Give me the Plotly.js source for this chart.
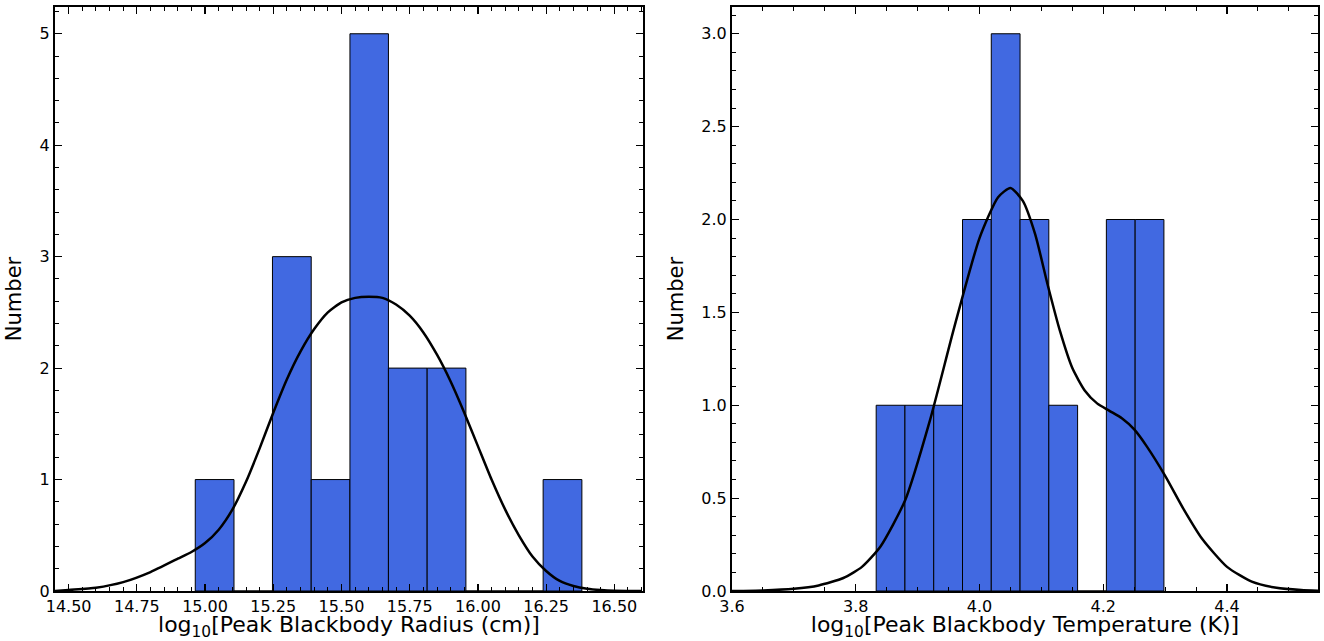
<!DOCTYPE html>
<html>
<head>
<meta charset="utf-8">
<script src="https://cdn.plot.ly/plotly-3.0.1.min.js"></script>
<style>html,body{margin:0;padding:0;background:#fff;}#chart{width:1324px;height:641px;}</style>
</head>
<body>
<div id="chart"></div>
<script>
// Left panel: log10 peak blackbody radius
const radiusBinEdges = [14.964, 15.106, 15.247, 15.389, 15.531, 15.672, 15.814, 15.956, 16.097, 16.239, 16.381];
const radiusCounts = [1, 0, 3, 1, 5, 2, 2, 0, 0, 1];
const radiusKdeX = [14.45, 14.50, 14.60, 14.70, 14.80, 14.90, 14.95, 15.00, 15.05, 15.10, 15.15, 15.20, 15.25, 15.30, 15.35, 15.40, 15.45, 15.50, 15.55, 15.60, 15.65, 15.70, 15.75, 15.80, 15.85, 15.90, 15.95, 16.00, 16.05, 16.10, 16.15, 16.20, 16.25, 16.30, 16.35, 16.40, 16.45, 16.50, 16.60];
const radiusKdeY = [0.0, 0.01, 0.03, 0.08, 0.17, 0.29, 0.35, 0.43, 0.55, 0.73, 0.98, 1.28, 1.60, 1.90, 2.15, 2.35, 2.50, 2.59, 2.63, 2.64, 2.63, 2.57, 2.47, 2.32, 2.12, 1.88, 1.60, 1.30, 1.00, 0.73, 0.50, 0.31, 0.18, 0.09, 0.045, 0.02, 0.008, 0.002, 0.0];

// Right panel: log10 peak blackbody temperature
const tempBinEdges = [3.833, 3.8795, 3.926, 3.9725, 4.019, 4.0655, 4.112, 4.1585, 4.205, 4.2515, 4.298];
const tempCounts = [1, 1, 1, 2, 3, 2, 1, 0, 2, 2];
const tempKdeX = [3.60, 3.65, 3.70, 3.74, 3.78, 3.81, 3.84, 3.88, 3.92, 3.96, 4.00, 4.03, 4.05, 4.07, 4.09, 4.11, 4.13, 4.15, 4.17, 4.19, 4.21, 4.23, 4.25, 4.27, 4.30, 4.33, 4.36, 4.40, 4.44, 4.48, 4.52, 4.547];
const tempKdeY = [0.0, 0.003, 0.012, 0.03, 0.07, 0.13, 0.24, 0.49, 0.92, 1.43, 1.90, 2.12, 2.17, 2.10, 1.92, 1.65, 1.40, 1.20, 1.08, 1.01, 0.97, 0.93, 0.87, 0.78, 0.62, 0.44, 0.28, 0.13, 0.05, 0.017, 0.005, 0.001];

const radiusLabel = 'log<sub>10</sub>[Peak Blackbody Radius (cm)]';
const tempLabel = 'log<sub>10</sub>[Peak Blackbody Temperature (K)]';
const yLabel = 'Number';

function centers(edges){ const c=[]; for(let i=0;i<edges.length-1;i++) c.push((edges[i]+edges[i+1])/2); return c; }
function widths(edges){ const w=[]; for(let i=0;i<edges.length-1;i++) w.push(edges[i+1]-edges[i]); return w; }

const barColor = '#4169E1';
const traces = [
  {type:'bar', x:centers(radiusBinEdges), y:radiusCounts, width:widths(radiusBinEdges), xaxis:'x', yaxis:'y',
   marker:{color:barColor, line:{color:'#000', width:1}}},
  {type:'scatter', mode:'lines', x:radiusKdeX, y:radiusKdeY, xaxis:'x', yaxis:'y',
   line:{color:'#000', width:2.5, shape:'spline', smoothing:0.6}},
  {type:'bar', x:centers(tempBinEdges), y:tempCounts, width:widths(tempBinEdges), xaxis:'x2', yaxis:'y2',
   marker:{color:barColor, line:{color:'#000', width:1}}},
  {type:'scatter', mode:'lines', x:tempKdeX, y:tempKdeY, xaxis:'x2', yaxis:'y2',
   line:{color:'#000', width:2.5, shape:'spline', smoothing:0.6}}
];

const fam = 'DejaVu Sans, sans-serif';
function minorOf(d, t0){ return {ticks:'inside', ticklen:4, tickwidth:1, tickcolor:'#000', dtick:d, tick0:t0}; }
function axisBase(){
  return {showgrid:false, zeroline:false, showline:true, linecolor:'#000', linewidth:2,
    mirror:'allticks', ticks:'inside', ticklen:7, tickwidth:1.2, tickcolor:'#000',
    tickfont:{family:fam, size:16, color:'#000'}};
}
const W=1324, H=641;
const yDom=[1-591/H, 1-7/H];
const titleFont = {size:22, family:fam, color:'#000'};
const layout = {
  width:W, height:H, margin:{l:0,r:0,t:0,b:0}, showlegend:false, bargap:0,
  paper_bgcolor:'#fff', plot_bgcolor:'#fff', font:{family:fam, color:'#000'},
  xaxis:Object.assign(axisBase(), {domain:[55/W, 643/W], range:[14.45,16.605], tick0:14.5, dtick:0.25, tickformat:'.2f',
    minor:minorOf(0.05,14.5), anchor:'y', title:{text:radiusLabel, font:titleFont, standoff:5}}),
  yaxis:Object.assign(axisBase(), {domain:yDom, range:[0,5.24], dtick:1, tick0:0,
    minor:minorOf(0.2,0), anchor:'x', title:{text:yLabel, font:{size:21, family:fam, color:'#000'}, standoff:12}}),
  xaxis2:Object.assign(axisBase(), {domain:[732/W, 1318/W], range:[3.6,4.547], tick0:3.6, dtick:0.2, tickformat:'.1f',
    minor:minorOf(0.05,3.6), anchor:'y2', title:{text:tempLabel, font:titleFont, standoff:5}}),
  yaxis2:Object.assign(axisBase(), {domain:yDom, range:[0,3.144], dtick:0.5, tick0:0, tickformat:'.1f',
    minor:minorOf(0.1,0), anchor:'x2', title:{text:yLabel, font:{size:21, family:fam, color:'#000'}, standoff:12}})
};
Plotly.newPlot('chart', traces, layout, {displayModeBar:false, staticPlot:true});
</script>
</body>
</html>
